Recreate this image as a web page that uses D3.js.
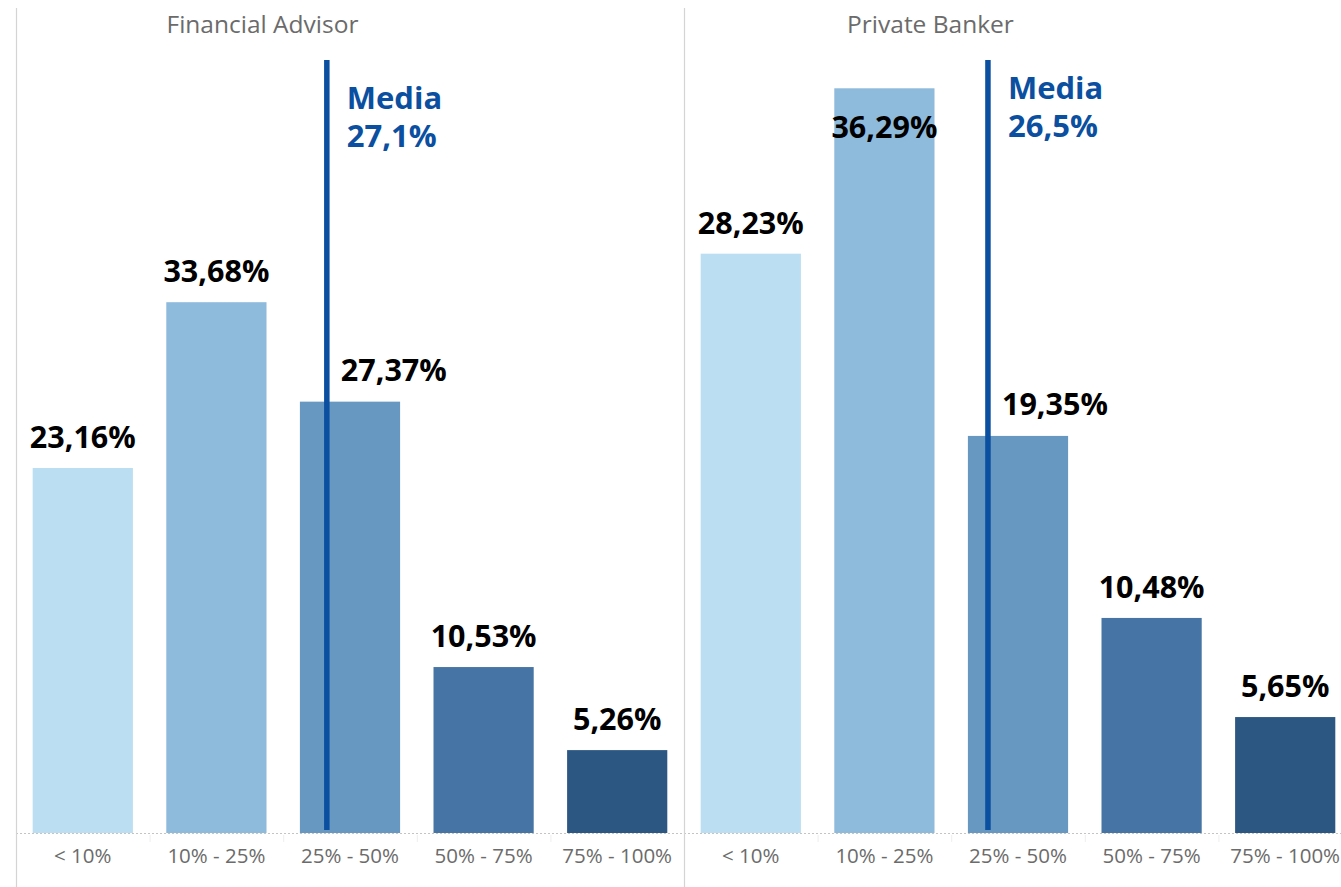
<!DOCTYPE html>
<html>
<head>
<meta charset="utf-8">
<script src="https://cdn.jsdelivr.net/npm/d3@7"></script>
<style>
  html, body { margin: 0; padding: 0; background: #fff; }
  svg { display: block; }
  text { font-family: "Open Sans", "Noto Sans", sans-serif; }
</style>
</head>
<body>
<svg id="chart" width="1341" height="887"></svg>
<script>
// ---- data ----
const categories = ["< 10%", "10% - 25%", "25% - 50%", "50% - 75%", "75% - 100%"];
const panels = ["Financial Advisor", "Private Banker"];
const financialAdvisor = [23.16, 33.68, 27.37, 10.53, 5.26];
const privateBanker = [28.23, 36.29, 19.35, 10.48, 5.65];
const medians = [27.1, 26.5];
const medianLabel = "Media";
const yMaxes = [50, 38.4];
const barColors = ["#bbdef2", "#8ebadc", "#6798c1", "#4674a4", "#2c5783"];
const medianColor = "#0b4fa0";

const seriesByPanel = [financialAdvisor, privateBanker];
const fmt = v => d3.format(".2f")(v).replace(".", ",") + "%";
const fmtMed = v => d3.format(".1f")(v).replace(".", ",") + "%";

// ---- layout ----
const W = 1341, H = 887;
const panelLeft = 16, panelWidth = 668;
const baseY = 833, topY = 45;
const medianTop = 60, medianBottom = 830;
const medianLabelY = [109, 99];

const svg = d3.select("#chart");

const panelX = d3.scaleBand().domain(panels).range([panelLeft, panelLeft + 2 * panelWidth]).padding(0);

// baseline (dotted)
svg.append("line")
  .attr("x1", panelLeft).attr("x2", W)
  .attr("y1", baseY + 0.5).attr("y2", baseY + 0.5)
  .attr("stroke", "#c4c4c4").attr("stroke-width", 1)
  .attr("stroke-dasharray", "2,2");

panels.forEach((p, pi) => {
  const x0 = panelX(p);
  const values = seriesByPanel[pi];
  const x = d3.scaleBand().domain(categories).range([x0, x0 + panelWidth])
    .paddingInner(0.25).paddingOuter(0.125);
  const y = d3.scaleLinear().domain([0, yMaxes[pi]]).range([baseY, topY]);
  const mx = d3.scaleLinear().domain([0, 58.24]).range([x0, x0 + panelWidth]);

  const g = svg.append("g");

  g.append("line")
    .attr("x1", x0 + 0.5).attr("x2", x0 + 0.5)
    .attr("y1", 8).attr("y2", H)
    .attr("stroke", "#d4d4d4").attr("stroke-width", 1.2);

  g.append("text")
    .attr("x", x0 + panelWidth * 0.369)
    .attr("y", 33)
    .attr("text-anchor", "middle")
    .attr("fill", "#6b6b6b")
    .attr("font-size", 24.5)
    .text(p);

  const step = x.step();
  d3.range(1, categories.length).forEach(i => {
    const bx = x0 + step * i;
    g.append("line")
      .attr("x1", bx + 0.5).attr("x2", bx + 0.5)
      .attr("y1", baseY + 2).attr("y2", baseY + 9)
      .attr("stroke", "#eeeeee");
  });

  g.selectAll("text.cat").data(categories).join("text")
    .attr("class", "cat")
    .attr("x", d => x(d) + x.bandwidth() / 2)
    .attr("y", 863)
    .attr("text-anchor", "middle")
    .attr("fill", "#6b6b6b")
    .attr("font-size", 20.5)
    .text(d => d);

  g.selectAll("rect.bar").data(values).join("rect")
    .attr("class", "bar")
    .attr("x", (d, i) => x(categories[i]))
    .attr("width", x.bandwidth())
    .attr("y", d => y(d))
    .attr("height", d => baseY - y(d))
    .attr("fill", (d, i) => barColors[i]);

  const mX = mx(medians[pi]);
  g.append("line")
    .attr("x1", mX).attr("x2", mX)
    .attr("y1", medianTop).attr("y2", medianBottom)
    .attr("stroke", medianColor).attr("stroke-width", 5.5);

  g.selectAll("text.val").data(values).join("text")
    .attr("class", "val")
    .attr("font-size", 30.5)
    .attr("font-weight", 700)
    .attr("fill", "#000")
    .each(function(d, i) {
      const t = d3.select(this);
      const cx = x(categories[i]) + x.bandwidth() / 2;
      const top = y(d);
      const bx = x(categories[i]);
      if (mX > bx && mX < bx + x.bandwidth()) {
        t.attr("x", mX + 14).attr("text-anchor", "start").attr("y", top - 21);
      } else if (top - 22 < 130) {
        t.attr("x", cx).attr("text-anchor", "middle").attr("y", top + 50);
      } else {
        t.attr("x", cx).attr("text-anchor", "middle").attr("y", top - 20);
      }
      t.text(fmt(d));
    });

  const ml = g.append("text")
    .attr("x", mX + 20)
    .attr("y", medianLabelY[pi])
    .attr("fill", medianColor)
    .attr("font-size", 31)
    .attr("font-weight", 700);
  ml.append("tspan").attr("x", mX + 20).text(medianLabel);
  ml.append("tspan").attr("x", mX + 20).attr("dy", 38).text(fmtMed(medians[pi]));
});
</script>
</body>
</html>
